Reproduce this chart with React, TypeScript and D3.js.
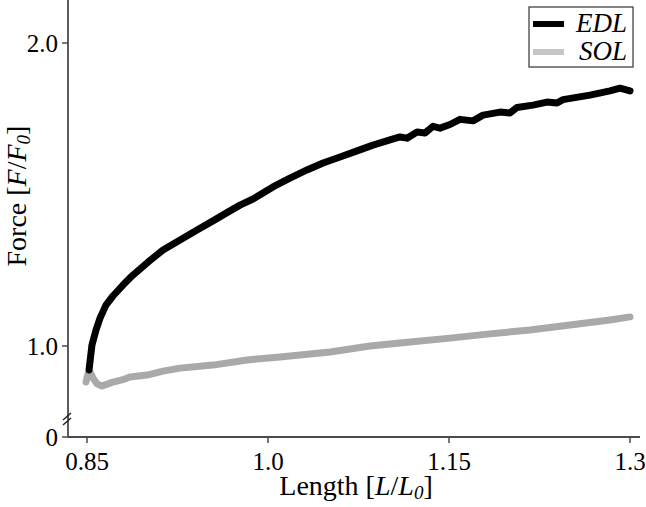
import { useRef, useEffect } from 'react';
import * as d3 from 'd3';

// EDL: length [L/L0] vs force [F/F0]
const edlLength = [0.8517, 0.8541, 0.8575, 0.8608, 0.8657, 0.8715, 0.8798, 0.8881, 0.9006, 0.913, 0.9271, 0.9412, 0.9544, 0.9685, 0.9768, 0.9876, 1.0041, 1.0182, 1.0323, 1.0456, 1.0597, 1.0738, 1.087, 1.1011, 1.1094, 1.1152, 1.1235, 1.1301, 1.1367, 1.1425, 1.1508, 1.1591, 1.1699, 1.1782, 1.1923, 1.2005, 1.2063, 1.2196, 1.2312, 1.2395, 1.2445, 1.2668, 1.2834, 1.2917, 1.3];
const edlForce = [0.921, 1.003, 1.053, 1.092, 1.135, 1.165, 1.201, 1.234, 1.277, 1.317, 1.35, 1.383, 1.413, 1.446, 1.465, 1.485, 1.525, 1.554, 1.581, 1.604, 1.624, 1.644, 1.663, 1.68, 1.69, 1.686, 1.706, 1.703, 1.725, 1.719, 1.731, 1.748, 1.743, 1.762, 1.772, 1.769, 1.787, 1.795, 1.805, 1.802, 1.813, 1.828, 1.842, 1.851, 1.842];

// SOL
const solLength = [0.8492, 0.8508, 0.8525, 0.855, 0.8583, 0.8624, 0.8674, 0.8715, 0.879, 0.8856, 0.8997, 0.913, 0.9271, 0.9544, 0.9826, 1.0099, 1.0514, 1.0845, 1.1177, 1.1508, 1.184, 1.2171, 1.2503, 1.2834, 1.3];
const solForce = [0.881, 0.908, 0.914, 0.894, 0.875, 0.868, 0.875, 0.881, 0.888, 0.898, 0.904, 0.917, 0.927, 0.937, 0.954, 0.964, 0.98, 1.0, 1.013, 1.026, 1.04, 1.053, 1.069, 1.086, 1.096];

const xTicks = [0.85, 1.0, 1.15, 1.3];
const xTickLabels = ['0.85', '1.0', '1.15', '1.3'];
const yTicks = [1.0, 2.0];
const yTickLabels = ['1.0', '2.0'];

const series = [
  { name: 'EDL', x: edlLength, y: edlForce, color: '#000000', legend: '#000000' },
  { name: 'SOL', x: solLength, y: solForce, color: '#a9a9a9', legend: '#c6c6c6' },
];

export default function App() {
  const svgRef = useRef<SVGSVGElement>(null);

  useEffect(() => {
    const width = 646;
    const height = 507;
    const axisX = 68;
    const axisY = 437;
    const font = '"Liberation Serif", "DejaVu Serif", serif';
    const axisColor = '#4a4a4a';

    const svg = d3.select(svgRef.current).html('')
      .attr('width', width)
      .attr('height', height);

    const x = d3.scaleLinear().domain([0.85, 1.3]).range([87, 630]);
    const y = d3.scaleLinear().domain([1.0, 2.0]).range([346, 43]);

    const line = d3.line<[number, number]>()
      .x(d => x(d[0]))
      .y(d => y(d[1]));

    // curves, SOL under EDL
    [...series].reverse().forEach(s => {
      svg.append('path')
        .datum(s.x.map((v, i) => [v, s.y[i]] as [number, number]))
        .attr('fill', 'none')
        .attr('stroke', s.color)
        .attr('stroke-width', 7)
        .attr('stroke-linejoin', 'round')
        .attr('stroke-linecap', 'round')
        .attr('d', line);
    });

    // axes
    svg.append('line')
      .attr('x1', axisX).attr('x2', axisX)
      .attr('y1', 0).attr('y2', axisY)
      .attr('stroke', axisColor).attr('stroke-width', 1.8);
    svg.append('line')
      .attr('x1', axisX).attr('x2', 640)
      .attr('y1', axisY).attr('y2', axisY)
      .attr('stroke', axisColor).attr('stroke-width', 1.8);

    // y ticks
    const yTick = (py: number, label: string) => {
      svg.append('line')
        .attr('x1', axisX - 6).attr('x2', axisX)
        .attr('y1', py).attr('y2', py)
        .attr('stroke', axisColor).attr('stroke-width', 1.5);
      svg.append('text')
        .attr('x', axisX - 10).attr('y', py + 9)
        .attr('text-anchor', 'end')
        .attr('font-family', font).attr('font-size', 25)
        .text(label);
    };
    yTicks.forEach((t, i) => yTick(y(t), yTickLabels[i]));
    yTick(axisY, '0'); // below the axis break

    // break marks
    [0, 5].forEach(off => {
      svg.append('line')
        .attr('x1', axisX - 5).attr('y1', 425 - off)
        .attr('x2', axisX + 3).attr('y2', 418 - off)
        .attr('stroke', '#222').attr('stroke-width', 1.5);
    });

    // x ticks
    xTicks.forEach((t, i) => {
      svg.append('line')
        .attr('x1', x(t)).attr('x2', x(t))
        .attr('y1', axisY).attr('y2', axisY + 6)
        .attr('stroke', axisColor).attr('stroke-width', 1.5);
      svg.append('text')
        .attr('x', x(t)).attr('y', 470)
        .attr('text-anchor', 'middle')
        .attr('font-family', font).attr('font-size', 25)
        .text(xTickLabels[i]);
    });

    // axis titles
    const title = (sel: d3.Selection<SVGTextElement, unknown, null, undefined>, word: string, v: string) => {
      sel.append('tspan').text(word + ' [');
      sel.append('tspan').attr('font-style', 'italic').text(v);
      sel.append('tspan').text('/');
      sel.append('tspan').attr('font-style', 'italic').text(v);
      sel.append('tspan').attr('font-style', 'italic').attr('font-size', 19).attr('dy', 4).text('0');
      sel.append('tspan').attr('dy', -4).text(']');
    };

    title(svg.append('text')
      .attr('x', 356).attr('y', 495)
      .attr('text-anchor', 'middle')
      .attr('font-family', font).attr('font-size', 28), 'Length', 'L');

    title(svg.append('text')
      .attr('transform', 'translate(26,196) rotate(-90)')
      .attr('text-anchor', 'middle')
      .attr('font-family', font).attr('font-size', 28), 'Force', 'F');

    // legend
    const lg = svg.append('g').attr('transform', 'translate(529,7)');
    lg.append('rect')
      .attr('width', 104).attr('height', 60)
      .attr('fill', 'white').attr('stroke', '#333').attr('stroke-width', 1.2);
    series.forEach((s, i) => {
      const cy = 17 + i * 28;
      lg.append('line')
        .attr('x1', 4).attr('x2', 35)
        .attr('y1', cy).attr('y2', cy)
        .attr('stroke', s.legend).attr('stroke-width', 6);
      lg.append('text')
        .attr('x', 98).attr('y', cy + 8)
        .attr('text-anchor', 'end')
        .attr('font-family', font).attr('font-style', 'italic').attr('font-size', 27)
        .text(s.name);
    });
  }, []);

  return (
    <svg ref={svgRef} style={{ position: 'absolute', left: 0, top: 0 }} />
  );
}
